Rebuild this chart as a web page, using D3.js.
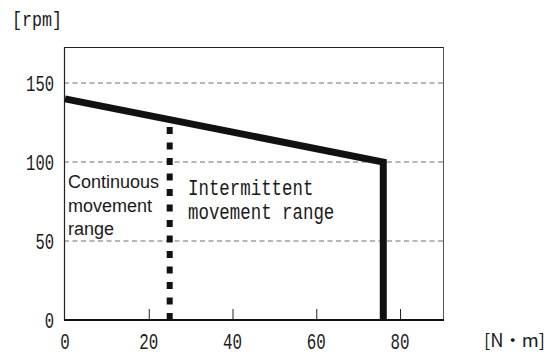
<!DOCTYPE html>
<html>
<head>
<meta charset="utf-8">
<script src="https://cdn.jsdelivr.net/npm/d3@7"></script>
<style>
  html, body { margin: 0; padding: 0; background: #fff; }
  svg { display: block; }
</style>
</head>
<body>
<svg id="chart" width="550" height="356"></svg>
<script>
// Speed–torque characteristic
const torqueTicks = [0, 20, 40, 60, 80];
const speedTicks = [0, 50, 100, 150];
const speedGrid = [50, 100, 150];
// Envelope of the intermittent range: [torque N·m, speed rpm]
const envelope = [[0, 140], [76, 100], [76, 0]];
// Boundary of continuous operation (rated torque)
const ratedTorque = 25;
const continuousLabel = ["Continuous", "movement", "range"];
const intermittentLabel = ["Intermittent", "movement range"];
const yUnit = "[rpm]";
const xUnit = "[N\u30FBm]";

const svg = d3.select("#chart");
const m = { left: 64, right: 444, top: 47, bottom: 320 };

const x = d3.scaleLinear().domain([0, 90.5]).range([m.left + 1, m.right]);
const y = d3.scaleLinear().domain([0, 172.8]).range([m.bottom, m.top]);

const monoFont = "'Liberation Mono', 'DejaVu Sans Mono', monospace";

// Dashed horizontal grid
svg.append("g").selectAll("line").data(speedGrid).join("line")
  .attr("x1", m.left).attr("x2", m.right)
  .attr("y1", d => y(d)).attr("y2", d => y(d))
  .attr("stroke", "#6e6e6e").attr("stroke-width", 1)
  .attr("stroke-dasharray", "5,3.5");

// Frame
svg.append("line").attr("x1", m.left).attr("x2", m.right).attr("y1", m.top + 0.5).attr("y2", m.top + 0.5)
  .attr("stroke", "#222").attr("stroke-width", 1);
svg.append("line").attr("x1", m.left + 0.5).attr("x2", m.left + 0.5).attr("y1", m.top).attr("y2", m.bottom)
  .attr("stroke", "#222").attr("stroke-width", 1.2);
svg.append("line").attr("x1", m.right - 0.5).attr("x2", m.right - 0.5).attr("y1", m.top).attr("y2", m.bottom)
  .attr("stroke", "#555").attr("stroke-width", 1);

// Bottom axis with inward ticks
const xAxis = d3.axisBottom(x).tickValues(torqueTicks.filter(d => d > 0))
  .tickSize(-11).tickFormat("");
const gx = svg.append("g").attr("transform", `translate(0,${m.bottom})`).call(xAxis);
gx.select(".domain").remove();
gx.selectAll(".tick line").attr("stroke", "#222").attr("stroke-width", 1);
svg.append("line").attr("x1", m.left).attr("x2", m.right).attr("y1", m.bottom).attr("y2", m.bottom)
  .attr("stroke", "#111").attr("stroke-width", 2);

// Tick labels
svg.append("g").selectAll("text").data(torqueTicks).join("text")
  .attr("x", d => x(d)).attr("y", 349)
  .attr("text-anchor", "middle")
  .attr("font-family", monoFont).attr("font-size", 22.5)
  .attr("textLength", d => String(d).length * 9.5)
  .attr("lengthAdjust", "spacingAndGlyphs")
  .attr("fill", "#1a1a1a").text(d => d);

svg.append("g").selectAll("text").data(speedTicks).join("text")
  .attr("x", 54).attr("y", d => y(d) + 7.5)
  .attr("text-anchor", "end")
  .attr("font-family", monoFont).attr("font-size", 22.5)
  .attr("textLength", d => String(d).length * 9.3)
  .attr("lengthAdjust", "spacingAndGlyphs")
  .attr("fill", "#1a1a1a").text(d => d);

// Units
svg.append("text").attr("x", 12).attr("y", 26)
  .attr("font-family", monoFont).attr("font-size", 20)
  .attr("textLength", 50).attr("lengthAdjust", "spacingAndGlyphs")
  .attr("fill", "#1a1a1a").text(yUnit);
svg.append("text").attr("x", 484).attr("y", 347)
  .attr("font-family", "'Noto Sans CJK JP', monospace").attr("font-size", 18)
  .attr("textLength", 61).attr("lengthAdjust", "spacingAndGlyphs")
  .attr("fill", "#1a1a1a").text(xUnit);

// Continuous boundary (dotted)
const speedAt = t => envelope[0][1] + (envelope[1][1] - envelope[0][1]) * (t - envelope[0][0]) / (envelope[1][0] - envelope[0][0]);
svg.append("line")
  .attr("x1", x(ratedTorque)).attr("x2", x(ratedTorque))
  .attr("y1", y(0)).attr("y2", y(speedAt(ratedTorque)))
  .attr("stroke", "#111").attr("stroke-width", 6)
  .attr("stroke-dasharray", "7,8.5");

// Envelope curve
svg.append("path")
  .datum(envelope)
  .attr("d", d3.line().x(d => x(d[0])).y(d => y(d[1])))
  .attr("fill", "none").attr("stroke", "#111")
  .attr("stroke-width", 7).attr("stroke-linejoin", "miter");

// Region labels
svg.append("g").selectAll("text").data(continuousLabel).join("text")
  .attr("x", 68).attr("y", (d, i) => 188 + i * 23.5)
  .attr("font-family", "'Liberation Sans', Arial, sans-serif").attr("font-size", 18)
  .attr("fill", "#1a1a1a").text(d => d);

svg.append("g").selectAll("text").data(intermittentLabel).join("text")
  .attr("x", 188).attr("y", (d, i) => 194.5 + i * 24.5)
  .attr("font-family", monoFont).attr("font-size", 22.5)
  .attr("textLength", d => d.length * 10.45)
  .attr("lengthAdjust", "spacingAndGlyphs")
  .attr("fill", "#1a1a1a").text(d => d);
</script>
</body>
</html>
